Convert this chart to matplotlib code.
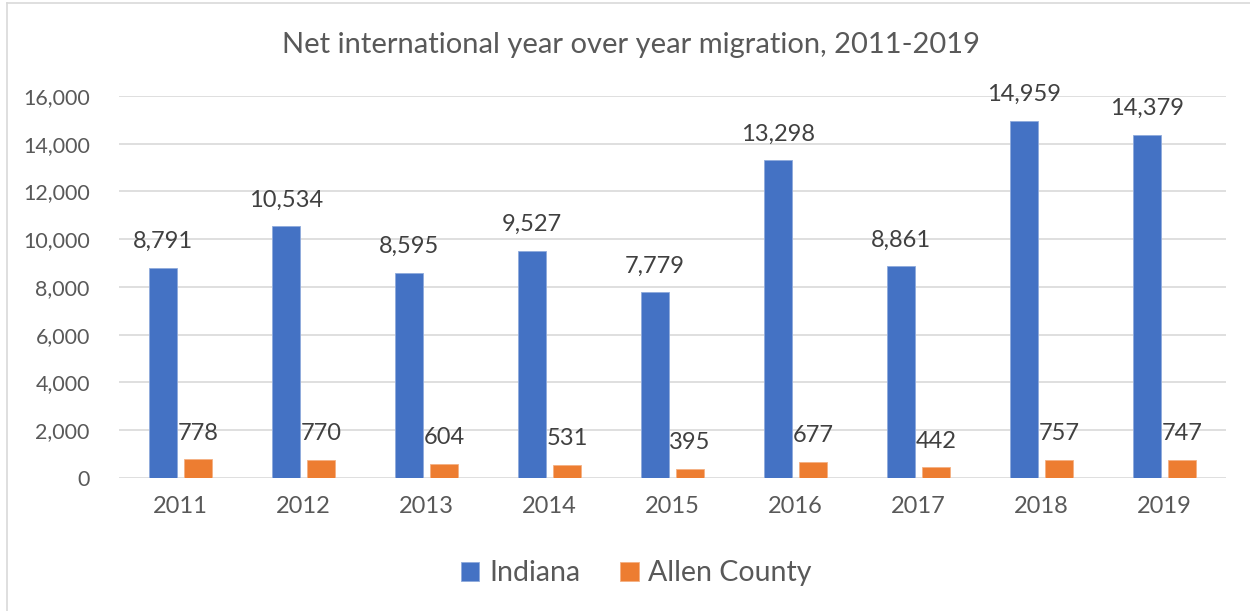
import matplotlib
matplotlib.use("Agg")
import matplotlib.pyplot as plt
from matplotlib.lines import Line2D
import numpy as np

years = ["2011", "2012", "2013", "2014", "2015", "2016", "2017", "2018", "2019"]
indiana = [8791, 10534, 8595, 9527, 7779, 13298, 8861, 14959, 14379]
allen_county = [778, 770, 604, 531, 395, 677, 442, 757, 747]
series_names = ["Indiana", "Allen County"]
title = "Net international year over year migration, 2011-2019"
yticks = [0, 2000, 4000, 6000, 8000, 10000, 12000, 14000, 16000]

BLUE = "#4472C4"
ORANGE = "#ED7D31"
GRID = "#D9D9D9"
TEXT = "#595959"
LABEL = "#404040"

plt.rcParams["font.family"] = ["Lato", "DejaVu Sans"]

fig = plt.figure(figsize=(12.5, 6.11), dpi=100)
ax = fig.add_axes([0.0952, 0.2177, 0.8856, 0.6252])

x = np.arange(len(years))
w = 0.228
off = 0.142
b1 = ax.bar(x - off, indiana, width=w, color=BLUE, edgecolor="#8FAADC", linewidth=0.6, label=series_names[0], zorder=3)
b2 = ax.bar(x + off, allen_county, width=w, color=ORANGE, edgecolor="#F4B183", linewidth=0.6, label=series_names[1], zorder=3)

for bars, vals in ((b1, indiana), (b2, allen_county)):
    for r, v in zip(bars, vals):
        ax.annotate(f"{v:,}", (r.get_x() + r.get_width() / 2, v),
                    xytext=(0, 19), textcoords="offset points",
                    ha="center", va="center", fontsize=17, color=LABEL)

ax.set_xlim(-0.5, len(years) - 0.5)
ax.set_ylim(0, 16000)
ax.set_yticks(yticks)
ax.set_yticklabels([f"{t:,}" for t in yticks])
ax.set_xticks(x)
ax.set_xticklabels(years)
ax.tick_params(axis="y", length=0, pad=21, labelsize=15.5, labelcolor=TEXT)
ax.tick_params(axis="x", length=0, pad=13, labelsize=17, labelcolor=TEXT)
ax.grid(axis="y", color=GRID, linewidth=1.2, zorder=0)
for s in ax.spines.values():
    s.set_visible(False)

fig.text(0.505, 0.926, title, ha="center", va="center", fontsize=21, color=TEXT)

fig.legend(handles=[b1, b2], labels=series_names, loc="center", bbox_to_anchor=(0.509, 0.062),
           ncol=2, frameon=False, fontsize=20.5, labelcolor=TEXT,
           handlelength=0.65, handleheight=0.65, handletextpad=0.35, columnspacing=1.4)

# chart area border (left and top edges)
fig.add_artist(Line2D([7 / 1250, 7 / 1250], [0, 1 - 3 / 611], color=GRID, linewidth=1.2))
fig.add_artist(Line2D([7 / 1250, 1], [1 - 3 / 611, 1 - 3 / 611], color=GRID, linewidth=1.2))

fig.savefig("out.png", dpi=100, facecolor="white")
